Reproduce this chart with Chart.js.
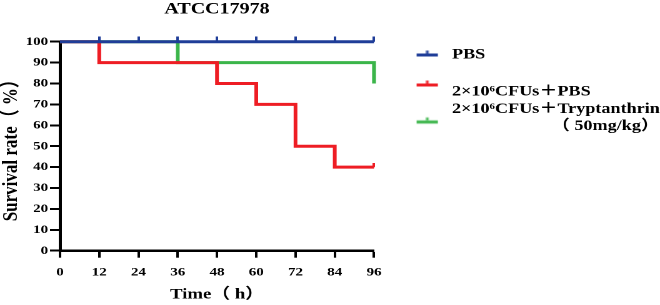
<!DOCTYPE html>
<html><head><meta charset="utf-8">
<script src="https://cdn.jsdelivr.net/npm/chart.js@4/dist/chart.umd.min.js"></script>
<style>
html,body{margin:0;padding:0;background:#fff;overflow:hidden;}
#wrap{width:528px;height:305px;transform:scaleX(1.25);transform-origin:0 0;}
</style></head><body>
<div id="wrap"><canvas id="c" width="528" height="305"></canvas></div>
<script>
const chartTitle = 'ATCC17978';
const xTitle = 'Time（ h）';
const yTitle = 'Survival rate（ %）';
const seriesNames = ['PBS', '2×10⁶CFUs＋PBS', '2×10⁶CFUs＋Tryptanthrin'];
const seriesNote = '（ 50mg/kg）';

const pbsTime = [0, 12, 24, 36, 48, 60, 72, 84, 96];
const pbsSurvival = [100, 100, 100, 100, 100, 100, 100, 100, 100];
const pbsCensored = [false, true, true, true, true, true, true, true, true];

const cfuTime = [0, 12, 48, 60, 72, 84, 96];
const cfuSurvival = [100, 90, 80, 70, 50, 40, 40];
const cfuCensored = [false, false, false, false, false, false, true];

const tryTime = [0, 36, 96];
const trySurvival = [100, 90, 80];
const tryCensored = [false, false, false];

const xTicks = [0, 12, 24, 36, 48, 60, 72, 84, 96];
const yTicks = [0, 10, 20, 30, 40, 50, 60, 70, 80, 90, 100];

const BLUE = '#1f3d98';
const RED = '#ee1d24';
const GREEN = '#3bb54a';
const FONT = "'Times New Roman', 'Liberation Serif', 'Noto Sans CJK SC', serif";

function tickImg(color, w, h, up) {
  const c = document.createElement('canvas');
  c.width = w; c.height = h;
  const g = c.getContext('2d');
  g.fillStyle = color;
  g.fillRect(0, 0, w, up);
  return c;
}
function legendIcon(color, dy) {
  const c = document.createElement('canvas');
  c.width = 52; c.height = 60;
  const g = c.getContext('2d');
  g.fillStyle = color;
  const ly = 30 + dy;
  g.fillRect(31, ly - 1.5, 17, 3);
  g.fillRect(38.5, ly - 4.5, 2, 3);
  return c;
}

function series(times, vals, censored, color, tick, label) {
  return {
    label: label,
    data: times.map((t, i) => ({x: t, y: vals[i]})),
    borderColor: color,
    backgroundColor: color,
    borderWidth: 3,
    stepped: 'before',
    fill: false,
    clip: false,
    pointRadius: censored.map(c => c ? 3 : 0),
    pointStyle: censored.map(c => c ? tick : 'circle'),
  };
}

const pbsTick = tickImg(BLUE, 2, 10, 5);
const redTick = tickImg(RED, 2, 8, 4);

const icons = [legendIcon(BLUE, 0.5), legendIcon(RED, -6.5), legendIcon(GREEN, 13)];
const legendTexts = [
  [seriesNames[0], ''],
  seriesNames[1],
  [seriesNames[2], '\u2003\u2003\u2003\u2003\u2003\u2002' + seriesNote]
];
const colors = [BLUE, RED, GREEN];

const legendBoxPlugin = {
  id: 'legendBox',
  afterLayout(chart) {
    const l = chart.legend;
    if (!l) return;
    l.left = chart.chartArea.right;
    l.right = chart.width;
    l.width = l.right - l.left;
  }
};

new Chart(document.getElementById('c'), {
  type: 'line',
  data: {
    datasets: [
      series(pbsTime, pbsSurvival, pbsCensored, BLUE, pbsTick, seriesNames[0]),
      series(cfuTime, cfuSurvival, cfuCensored, RED, redTick, seriesNames[1]),
      series(tryTime, trySurvival, tryCensored, GREEN, redTick, seriesNames[2])
    ]
  },
  plugins: [legendBoxPlugin],
  options: {
    responsive: false,
    devicePixelRatio: 2,
    animation: false,
    events: [],
    layout: {padding: {left: 0, right: 168.8, top: 0, bottom: 0}},
    scales: {
      x: {
        type: 'linear', min: 0, max: 96,
        afterBuildTicks: s => { s.ticks = xTicks.map(v => ({value: v})); },
        afterFit: s => { s.height = 54.3; },
        ticks: {font: {family: FONT, size: 12, weight: 'bold'}, color: '#000', padding: 7.5, maxRotation: 0, autoSkip: false},
        grid: {display: true, drawOnChartArea: false, drawTicks: true, tickLength: 7, tickColor: '#000', tickWidth: 2},
        border: {display: true, color: '#000', width: 2.5},
        title: {display: true, text: xTitle, color: '#000', font: {family: FONT, size: 15, weight: 'bold', lineHeight: 1.2}, padding: {top: 0, bottom: 1.5}}
      },
      y: {
        type: 'linear', min: 0, max: 100,
        afterBuildTicks: s => { s.ticks = yTicks.map(v => ({value: v})); },
        afterFit: s => { s.width = 48; },
        ticks: {font: {family: FONT, size: 12, weight: 'bold'}, color: '#000', padding: 1.5, autoSkip: false},
        grid: {display: true, drawOnChartArea: false, drawTicks: true, tickLength: 8, tickColor: '#000', tickWidth: 2},
        border: {display: true, color: '#000', width: 2.5},
        title: {display: true, text: yTitle, color: '#000', font: {family: FONT, size: 17, weight: 'bold', lineHeight: 1.2}, padding: {top: -1, bottom: 0}}
      }
    },
    plugins: {
      tooltip: {enabled: false},
      title: {
        display: true, text: chartTitle, fullSize: false, color: '#000',
        font: {family: FONT, size: 16, weight: 'bold', lineHeight: 1.2},
        padding: {top: 0, bottom: 22.5}
      },
      legend: {
        position: 'right', align: 'start', maxWidth: 60, fullSize: true,
        title: {display: true, text: ' ', font: {size: 10, lineHeight: 1}, padding: {top: 34.25, bottom: 0}},
        labels: {
          usePointStyle: true, pointStyleWidth: 52.2, padding: 3, color: '#000',
          font: {family: FONT, size: 14.5, weight: 'bold', lineHeight: 17 / 14.5},
          generateLabels: chart => legendTexts.map((t, i) => ({
            text: t, pointStyle: icons[i], datasetIndex: i,
            hidden: !chart.isDatasetVisible(i),
            fillStyle: colors[i], strokeStyle: colors[i], lineWidth: 0, fontColor: '#000'
          }))
        }
      }
    }
  }
});
</script>
</body></html>
